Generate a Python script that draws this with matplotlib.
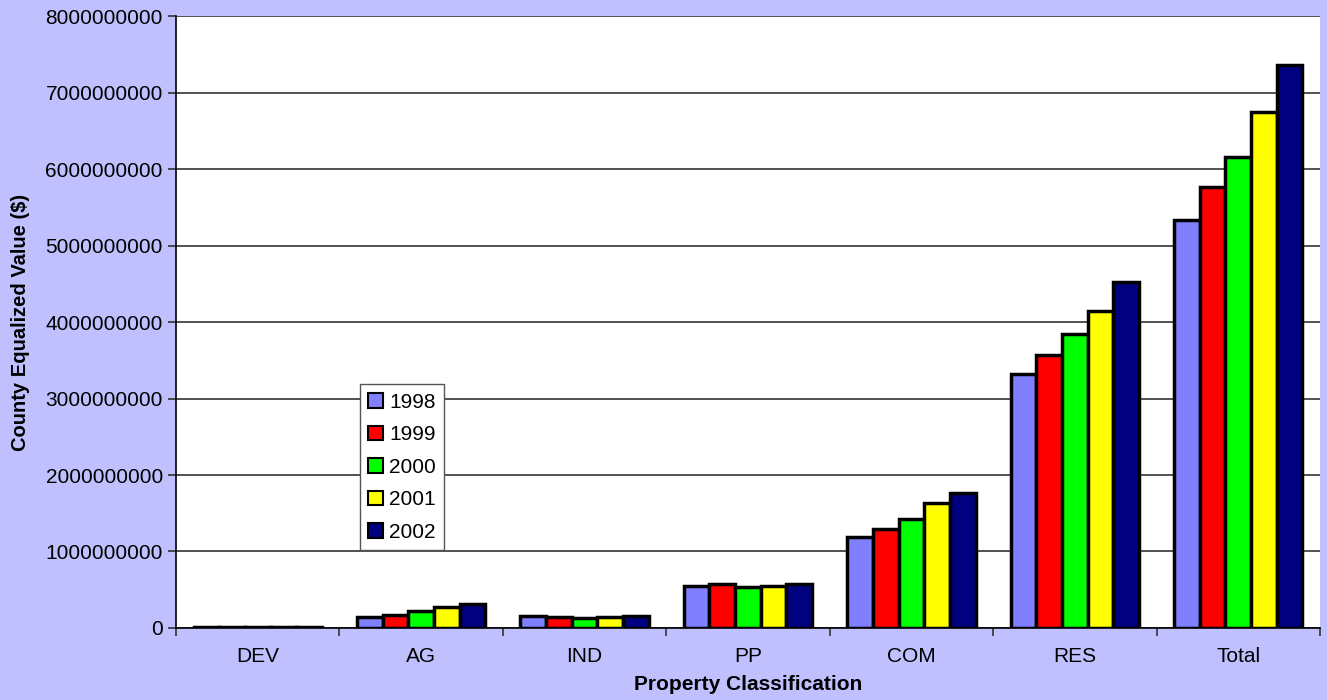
import numpy as np
import matplotlib
matplotlib.use("Agg")
import matplotlib.pyplot as plt
from matplotlib.ticker import MultipleLocator, FuncFormatter

plt.rcParams['font.family'] = ['Liberation Sans', 'DejaVu Sans']

categories = ["DEV", "AG", "IND", "PP", "COM", "RES", "Total"]
years = ["1998", "1999", "2000", "2001", "2002"]

# values in dollars (billions)
v1998 = [0.008, 0.144, 0.157, 0.549, 1.185, 3.316, 5.34]
v1999 = [0.009, 0.174, 0.140, 0.575, 1.294, 3.573, 5.76]
v2000 = [0.010, 0.222, 0.135, 0.532, 1.420, 3.840, 6.16]
v2001 = [0.011, 0.270, 0.148, 0.549, 1.630, 4.140, 6.745]
v2002 = [0.010, 0.318, 0.157, 0.580, 1.770, 4.523, 7.355]
series = [v1998, v1999, v2000, v2001, v2002]
colors = ["#8080FF", "#FF0000", "#00FF00", "#FFFF00", "#000080"]

fig = plt.figure(figsize=(13.27, 7), dpi=100, facecolor="#C0C0FF")
ax = fig.add_axes([0.1326, 0.1029, 0.8621, 0.8741])
ax.set_facecolor("white")

pos = np.arange(len(categories))
width = 0.157
for i, vals in enumerate(series):
    ax.bar(pos + (i - 2) * width, np.array(vals) * 1e9, width,
           color=colors[i], edgecolor="black", linewidth=2.5,
           label=years[i], zorder=3)

ax.set_xlim(-0.5, len(categories) - 0.5)
ax.set_ylim(0, 8e9)
ax.yaxis.set_major_locator(MultipleLocator(1e9))
ax.yaxis.set_major_formatter(FuncFormatter(lambda v, p: "%d" % v))
ax.grid(axis="y", color="#333333", linewidth=1.2, zorder=1)

ax.set_xticks(pos)
ax.set_xticklabels(categories)
ax.set_xticks(np.arange(-0.5, len(categories)), minor=True)
ax.tick_params(axis="x", which="major", length=0, labelsize=15, pad=14)
ax.tick_params(axis="x", which="minor", length=6, width=1.2, color="#333333")
ax.tick_params(axis="y", length=6, width=1.2, labelsize=15, color="#333333")

for s in ["top", "right"]:
    ax.spines[s].set_visible(False)
ax.spines["left"].set_linewidth(1.2)
ax.spines["bottom"].set_linewidth(1.2)

ax.set_xlabel("Property Classification", fontsize=15, fontweight="bold", labelpad=6)
ax.set_ylabel("County Equalized Value ($)", fontsize=14.5, fontweight="bold", labelpad=11)

leg = ax.legend(loc="lower left", bbox_to_anchor=(0.161, 0.127), fontsize=15,
                frameon=True, fancybox=False, edgecolor="#555555",
                handlelength=0.7, handleheight=0.7, handletextpad=0.3,
                labelspacing=0.65, borderpad=0.4, borderaxespad=0, framealpha=1)
for h in leg.legend_handles:
    h.set_linewidth(1.5)

fig.savefig("out.png", dpi=100, facecolor=fig.get_facecolor())
